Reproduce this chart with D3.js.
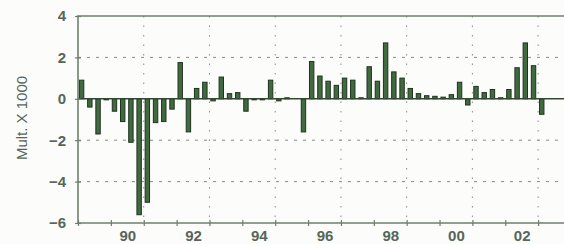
<!DOCTYPE html>
<html>
<head>
<meta charset="utf-8">
<script src="https://cdn.jsdelivr.net/npm/d3@7"></script>
<style>
  body { margin: 0; background: #fcfcfa; }
  svg { display: block; }
</style>
</head>
<body>
<div id="chart"></div>
<script>
// quarterly values, first quarter of 1989 onwards
var startYear = 1989;
var values = [
  0.9, -0.4, -1.7, -0.05,
  -0.6, -1.1, -2.1, -5.6,
  -5.0, -1.15, -1.1, -0.5,
  1.75, -1.6, 0.5, 0.8,
  -0.1, 1.05, 0.25, 0.3,
  -0.6, -0.05, -0.05, 0.9,
  -0.1, 0.05, 0, -1.6,
  1.8, 1.1, 0.85, 0.65,
  1.0, 0.9, 0.05, 1.55,
  0.85, 2.7, 1.3, 1.0,
  0.5, 0.25, 0.15, 0.12,
  0.08, 0.2, 0.8, -0.3,
  0.6, 0.3, 0.45, 0.05,
  0.45, 1.5, 2.7, 1.6,
  -0.75
];
var yTicks = [-6, -4, -2, 0, 2, 4];
var yGrid = [-4, -2, 2];
var xTicks = d3.range(1989, 2005);
var xGrid = [1991, 1993, 1995, 1997, 1999, 2001, 2003];
var xLabels = ["90", "92", "94", "96", "98", "00", "02"];
var xLabelPos = [1990.5, 1992.5, 1994.5, 1996.5, 1998.5, 2000.5, 2002.5];

var W = 564, H = 244;
var pLeft = 78, pTop = 16, pRight = 571, pBottom = 223;

var svg = d3.select("#chart").append("svg")
  .attr("width", W)
  .attr("height", H);

var x = d3.scaleLinear().domain([1989, 2004]).range([pLeft, pRight]);
var y = d3.scaleLinear().domain([-6, 4]).range([pBottom, pTop]);

var textColor = "#55665a";
var frameColor = "#6f7f6f";

// dotted grid
svg.append("g").selectAll("line").data(yGrid).enter().append("line")
  .attr("x1", pLeft).attr("x2", pRight)
  .attr("y1", function(d) { return y(d); })
  .attr("y2", function(d) { return y(d); })
  .attr("stroke", "#838e83")
  .attr("stroke-width", 1)
  .attr("stroke-dasharray", "3,6");

svg.append("g").selectAll("line").data(xGrid).enter().append("line")
  .attr("x1", function(d) { return x(d); })
  .attr("x2", function(d) { return x(d); })
  .attr("y1", pTop).attr("y2", pBottom)
  .attr("stroke", "#838e83")
  .attr("stroke-width", 1)
  .attr("stroke-dasharray", "1.5,8");

// bars
var bw = 4.4;
svg.append("g").selectAll("rect").data(values).enter().append("rect")
  .attr("x", function(d, i) { return x(startYear + i * 0.25 + 0.125) - bw / 2 - 0.5; })
  .attr("y", function(d) { return y(Math.max(0, d)); })
  .attr("width", bw)
  .attr("height", function(d) { return Math.abs(y(d) - y(0)); })
  .attr("fill", "#416a40")
  .attr("stroke", "#1f331f")
  .attr("stroke-width", 1);

// zero line
svg.append("line")
  .attr("x1", pLeft).attr("x2", pRight)
  .attr("y1", y(0)).attr("y2", y(0))
  .attr("stroke", "#2f4a30")
  .attr("stroke-width", 1.4);

// frame
svg.append("path")
  .attr("d", "M" + pRight + "," + pTop + "H" + pLeft + "V" + pBottom + "H" + pRight)
  .attr("fill", "none")
  .attr("stroke", frameColor)
  .attr("stroke-width", 1.6);

// y axis
var yAxis = svg.append("g")
  .attr("transform", "translate(" + pLeft + ",0)")
  .call(d3.axisLeft(y).tickValues(yTicks).tickSize(4).tickPadding(8));
yAxis.select(".domain").remove();
yAxis.selectAll(".tick line").attr("x1", -3).attr("x2", 3)
  .attr("stroke", frameColor).attr("stroke-width", 1.2);
yAxis.selectAll(".tick text")
  .attr("fill", textColor)
  .style("font-family", "Liberation Sans, Arial, sans-serif")
  .style("font-size", "15px")
  .style("font-weight", "bold");

// x axis ticks (every year)
var xAxis = svg.append("g")
  .attr("transform", "translate(0," + pBottom + ")")
  .call(d3.axisBottom(x).tickValues(xTicks).tickSize(3).tickFormat(""));
xAxis.select(".domain").remove();
xAxis.selectAll(".tick line").attr("y1", -3).attr("y2", 3)
  .attr("stroke", frameColor).attr("stroke-width", 1.2);

// x axis labels (centred in the year)
var xLab = svg.append("g")
  .attr("transform", "translate(0," + pBottom + ")")
  .call(d3.axisBottom(x).tickValues(xLabelPos).tickSize(0).tickPadding(7)
    .tickFormat(function(d, i) { return xLabels[i]; }));
xLab.select(".domain").remove();
xLab.selectAll(".tick text")
  .attr("fill", textColor)
  .style("font-family", "Liberation Sans, Arial, sans-serif")
  .style("font-size", "15px")
  .style("font-weight", "bold");

// y title
svg.append("text")
  .attr("transform", "translate(27,118) rotate(-90)")
  .attr("text-anchor", "middle")
  .attr("fill", textColor)
  .style("font-family", "Liberation Sans, Arial, sans-serif")
  .style("font-size", "15px")
  .text("Mult. X 1000");
</script>
</body>
</html>
